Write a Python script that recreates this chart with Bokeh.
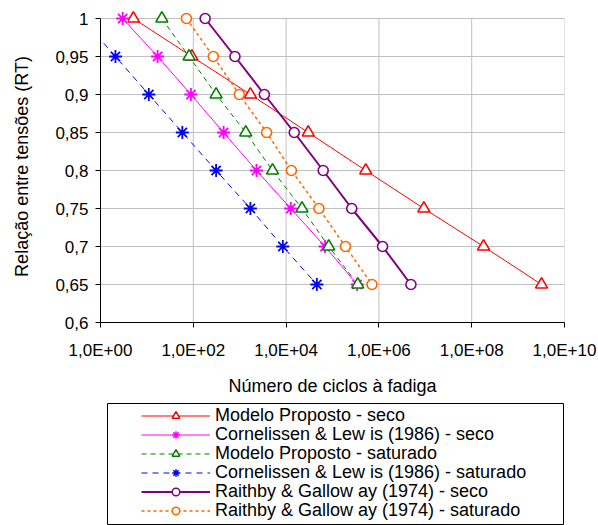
from bokeh.plotting import figure
from bokeh.models import (FixedTicker, CustomJSTickFormatter, Range1d, Legend, LegendItem, Spacer)
from bokeh.layouts import column, row
from bokeh.embed import file_html
from bokeh.resources import INLINE

# ---- data ----
rt = [1.0, 0.95, 0.9, 0.85, 0.8, 0.75, 0.7, 0.65]
modelo_seco = [5.1, 93, 1700, 3.0e4, 5.2e5, 9.3e6, 1.8e8, 3.2e9]
cornelissen_seco = [3.0, 17, 89, 450, 2300, 1.26e4, 6.9e4, 3.4e5]
modelo_saturado = [21, 81, 310, 1350, 5100, 2.2e4, 8.3e4, 3.5e5]
cornelissen_saturado = [0.4, 2.1, 11, 58, 310, 1700, 8500, 4.6e4]
raithby_seco = [180, 790, 3400, 1.5e4, 6.3e4, 2.6e5, 1.2e6, 4.9e6]
raithby_saturado = [71, 270, 980, 3800, 1.3e4, 5.1e4, 1.9e5, 7.1e5]

series_labels = [
    "Modelo Proposto - seco",
    "Cornelissen & Lew is (1986) - seco",
    "Modelo Proposto - saturado",
    "Cornelissen & Lew is (1986) - saturado",
    "Raithby & Gallow ay (1974) - seco",
    "Raithby & Gallow ay (1974) - saturado",
]

x_ticks = [1, 1e2, 1e4, 1e6, 1e8, 1e10]
x_tick_labels = ["1,0E+00", "1,0E+02", "1,0E+04", "1,0E+06", "1,0E+08", "1,0E+10"]
y_ticks = [0.6, 0.65, 0.7, 0.75, 0.8, 0.85, 0.9, 0.95, 1.0]
y_tick_labels = ["0,6", "0,65", "0,7", "0,75", "0,8", "0,85", "0,9", "0,95", "1"]

x_title = "Número de ciclos à fadiga"
y_title = "Relação entre tensões (RT)"

# ---- styles ----
styles = [
    dict(values=modelo_seco, color="#FF0000", dash="solid", width=1, marker="triangle", size=12),
    dict(values=cornelissen_seco, color="#FF00FF", dash="solid", width=1, marker="asterisk", size=13),
    dict(values=modelo_saturado, color="#008000", dash="5 4", width=1, marker="triangle", size=12),
    dict(values=cornelissen_saturado, color="#0000FF", dash="6 5", width=1, marker="asterisk", size=13),
    dict(values=raithby_seco, color="#800080", dash="solid", width=2, marker="circle", size=10),
    dict(values=raithby_saturado, color="#FF6600", dash="3 3", width=1.5, marker="circle", size=10),
]

FONT = "Liberation Sans"

# frame: top of data range (1.0) at y=18px, extra headroom so top markers are not clipped
TOP_PAD_PX = 8
FRAME_TOP = 18 - TOP_PAD_PX
FRAME_BOTTOM = 322
MAIN_H = 402
y_lo, y_hi = min(y_ticks), max(y_ticks)
y_end = y_lo + (FRAME_BOTTOM - FRAME_TOP) * (y_hi - y_lo) / (FRAME_BOTTOM - 18)

p = figure(width=598, height=MAIN_H, x_axis_type="log",
           x_range=Range1d(1, 1e10), y_range=Range1d(y_lo, y_end),
           min_border_left=100, min_border_right=34, min_border_top=FRAME_TOP,
           min_border_bottom=MAIN_H - FRAME_BOTTOM,
           output_backend="svg", toolbar_location=None)
p.outline_line_color = None
p.background_fill_color = "white"
p.border_fill_color = "white"

p.xaxis.ticker = FixedTicker(ticks=x_ticks, minor_ticks=[])
p.yaxis.ticker = FixedTicker(ticks=y_ticks, minor_ticks=[])
p.yaxis.bounds = (y_lo, y_hi)
p.xaxis.formatter = CustomJSTickFormatter(args=dict(tvals=x_ticks, tlabels=x_tick_labels), code="""
    for (let i = 0; i < tvals.length; i++) {
        if (Math.abs(Math.log10(tick) - Math.log10(tvals[i])) < 1e-6) return tlabels[i];
    }
    return '';
""")
p.yaxis.formatter = CustomJSTickFormatter(args=dict(tvals=y_ticks, tlabels=y_tick_labels), code="""
    for (let i = 0; i < tvals.length; i++) {
        if (Math.abs(tick - tvals[i]) < 1e-6) return tlabels[i];
    }
    return '';
""")

for ax in (p.xaxis[0], p.yaxis[0]):
    ax.axis_line_color = "black"
    ax.axis_line_width = 1
    ax.major_tick_line_color = "black"
    ax.major_tick_out = 5
    ax.major_tick_in = 0
    ax.minor_tick_out = 0
    ax.minor_tick_in = 0
    ax.major_label_text_font = FONT
    ax.major_label_text_font_size = "17px"
    ax.major_label_text_color = "black"
    ax.axis_label_text_font = FONT
    ax.axis_label_text_font_size = "18px"
    ax.axis_label_text_font_style = "normal"
    ax.axis_label_text_color = "black"

p.xaxis.axis_label = x_title
p.yaxis.axis_label = y_title
p.xaxis.major_label_standoff = 13
p.xaxis.axis_label_standoff = 13
p.yaxis.major_label_standoff = 7
p.yaxis.axis_label_standoff = 20

# grid: horizontal lines from the y grid, vertical lines limited to the data span
p.xgrid.visible = False
p.ygrid.ticker = FixedTicker(ticks=y_ticks, minor_ticks=[])
p.ygrid.grid_line_color = "#C0C0C0"
p.ygrid.grid_line_width = 1
p.segment(x0=x_ticks, y0=[y_lo] * len(x_ticks), x1=x_ticks, y1=[y_hi] * len(x_ticks),
          line_color="#C0C0C0", line_width=1)

for s in styles:
    p.line(s["values"], rt, line_color=s["color"], line_width=s["width"], line_dash=s["dash"])
for s in styles:
    if s["marker"] == "asterisk":
        p.scatter(s["values"], rt, marker="square", size=10, fill_color="white", line_color=None)
        p.scatter(s["values"], rt, marker="asterisk", size=s["size"], line_color=s["color"], line_width=1.8)
    else:
        p.scatter(s["values"], rt, marker=s["marker"], size=s["size"], line_color=s["color"],
                  fill_color="white", line_width=1.6)

# ---- legend panel (frame = legend box: x 107..563, y 403..bottom) ----
BOX_LEFT = 107
LEG_H = 525 - MAIN_H
p2 = figure(width=598 - BOX_LEFT + 100, height=LEG_H, x_axis_type=None, y_axis_type=None,
            x_range=Range1d(-3, -2), y_range=Range1d(-3, -2),
            min_border_left=100, min_border_right=35, min_border_top=1, min_border_bottom=0,
            output_backend="svg", toolbar_location=None)
p2.outline_line_color = "black"
p2.outline_line_width = 1
p2.background_fill_color = "white"
p2.border_fill_color = "white"

ROW0 = 415 - MAIN_H - 1   # first row centre, measured from the top of the box
ROW_STEP = 19
ITEM_H = 21
frame_h = LEG_H - 1
for i, (lbl, s) in enumerate(zip(series_labels, styles)):
    r1 = p2.line(s["values"], rt, line_color=s["color"], line_width=s["width"], line_dash=s["dash"])
    r2 = p2.scatter(s["values"], rt, marker=s["marker"], size=s["size"], line_color=s["color"],
                    fill_color="white", line_width=1.5)
    centre = ROW0 + i * ROW_STEP
    vy = frame_h - centre - ITEM_H / 2
    leg = Legend(items=[LegendItem(label=lbl, renderers=[r1, r2])], location=(34, vy),
                 padding=0, margin=0, spacing=0,
                 glyph_width=69, glyph_height=19, label_height=19, label_standoff=5,
                 label_text_font=FONT, label_text_font_size="18px", label_text_color="black",
                 border_line_color=None, background_fill_alpha=0)
    p2.add_layout(leg)

layout = column(p, row(Spacer(width=BOX_LEFT - 100, height=LEG_H), p2, spacing=0), spacing=0)
open("out.html", "w").write(file_html(layout, INLINE))
